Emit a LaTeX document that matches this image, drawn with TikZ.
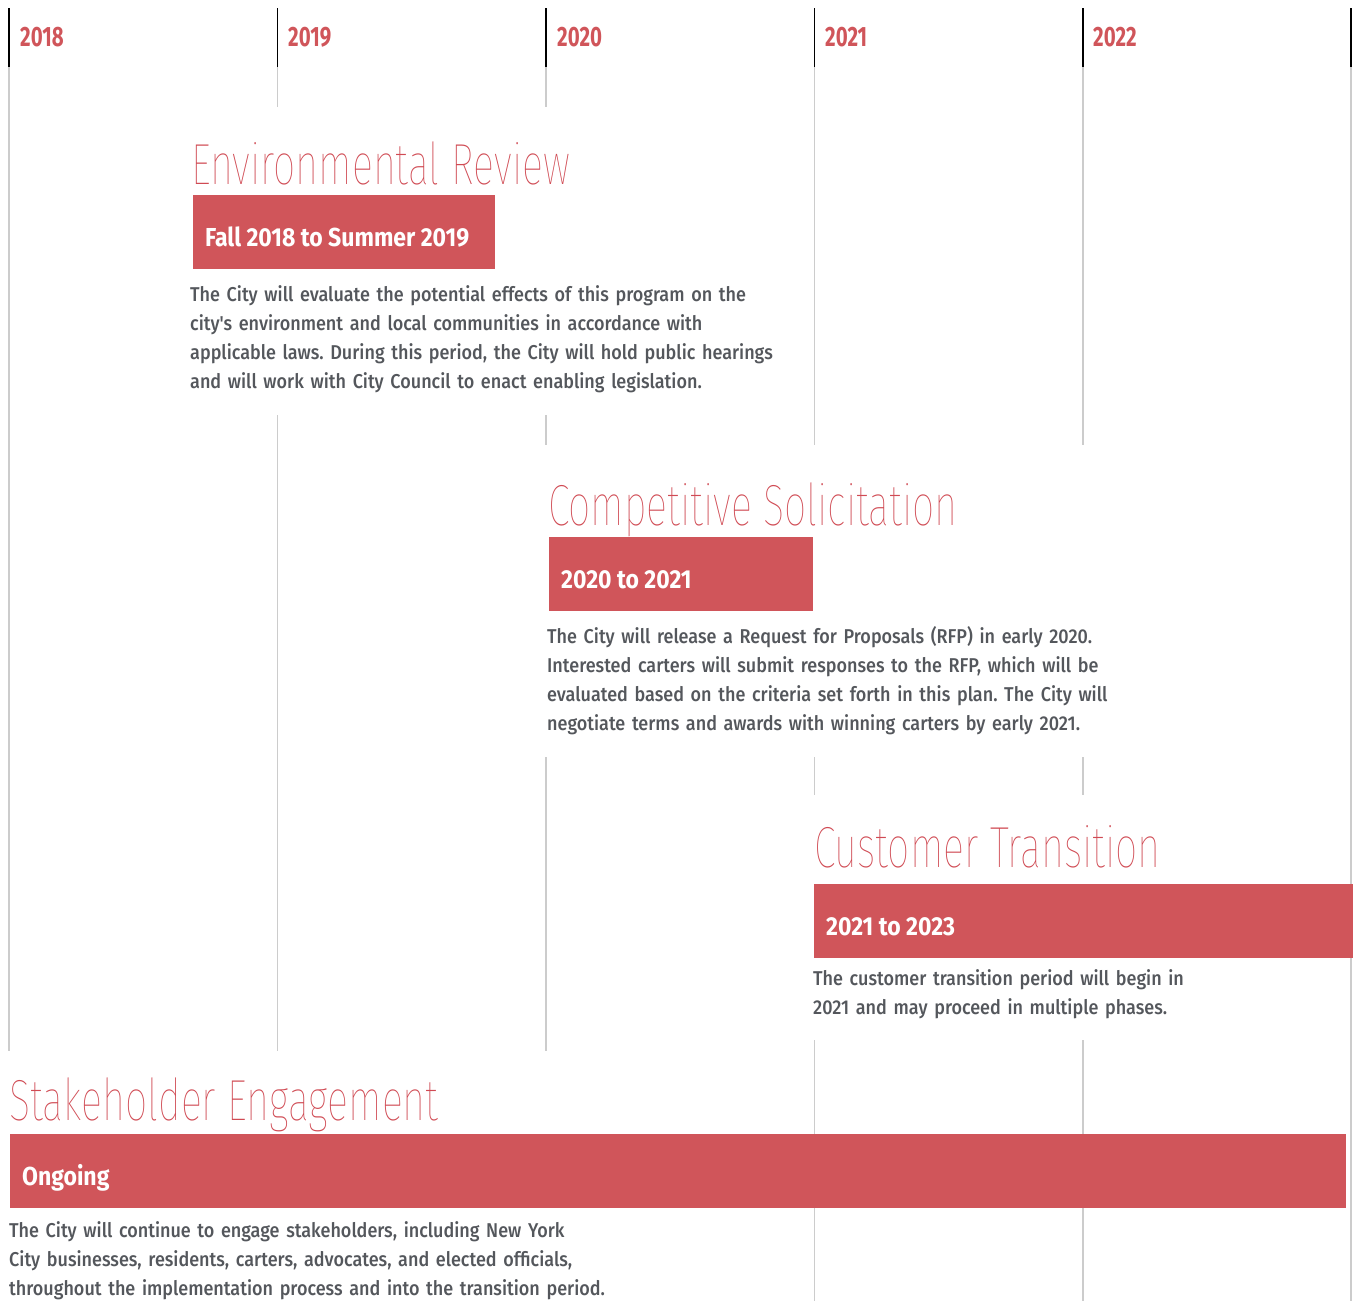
\documentclass[tikz,border=0pt]{standalone}
\usepackage{fontspec}
\setmainfont{Fira Sans}
\newfontfamily\bodyfont{Fira Sans Medium}[FakeStretch=0.90]
\newfontfamily\barfont{Fira Sans}[FakeStretch=0.885]
\newfontfamily\titlefont{Fira Sans Thin}[FakeStretch=0.68]
\newfontfamily\yearfont{Fira Sans}[FakeStretch=0.73]
\definecolor{accent}{HTML}{D0555A}
\definecolor{titlered}{HTML}{D04A53}
\definecolor{bodygray}{HTML}{54575C}
\definecolor{rulegray}{HTML}{CCCCCC}
\begin{document}
\begin{tikzpicture}[x=1pt,y=-1pt,
  yearlbl/.style={anchor=base west, inner sep=0pt, text=accent, font=\yearfont\bfseries\fontsize{28}{28}\selectfont},
  phasetitle/.style={anchor=base west, inner sep=0pt, text=titlered, font=\titlefont\fontsize{58}{58}\selectfont},
  barbox/.style={anchor=north west, inner sep=0pt, fill=accent, draw=none},
  bartext/.style={anchor=base west, inner sep=0pt, text=white, font=\barfont\bfseries\fontsize{26}{26}\selectfont},
  bodytext/.style={anchor=base west, inner sep=0pt, text=bodygray, text width=720pt, align=left, font=\bodyfont\frenchspacing\fontsize{20}{29.3}\selectfont},
  topline/.style={draw=black, line width=1.5pt},
  gridline/.style={draw=rulegray, line width=1.4pt}
]
\fill[white] (0,0) rectangle (1353,1301);
\useasboundingbox (0,0) rectangle (1353,1301);

% year ticks
\foreach \x in {9,277.5,546,814.5,1083,1351}{\draw[topline] (\x,8) -- (\x,67);}

% grey grid segments
\draw[gridline] (9,67) -- (9,1051);
\draw[gridline] (277.5,67) -- (277.5,107);
\draw[gridline] (277.5,415) -- (277.5,1051);
\draw[gridline] (546,67) -- (546,107);
\draw[gridline] (546,415) -- (546,445);
\draw[gridline] (546,757) -- (546,1051);
\draw[gridline] (814.5,67) -- (814.5,445);
\draw[gridline] (814.5,757) -- (814.5,795);
\draw[gridline] (814.5,1040) -- (814.5,1301);
\draw[gridline] (1083,67) -- (1083,445);
\draw[gridline] (1083,757) -- (1083,795);
\draw[gridline] (1083,1040) -- (1083,1301);
\draw[gridline] (1351,67) -- (1351,1301);

% years
\node[yearlbl] (y2018) at (20,46) {2018};
\node[yearlbl] (y2019) at (288,46) {2019};
\node[yearlbl] (y2020) at (557,46) {2020};
\node[yearlbl] (y2021) at (825,46) {2021};
\node[yearlbl] (y2022) at (1093,46) {2022};

% Environmental Review
\node[phasetitle] (t1) at (191,184) {Environmental Review};
\node[barbox, minimum width=302pt, minimum height=74pt] (b1) at (193,195) {};
\node[bartext] (bt1) at (205,246) {Fall 2018 to Summer 2019};
\node[bodytext] (d1) at (190,301) {The City will evaluate the potential effects of this program on the\\
city's environment and local communities in accordance with\\
applicable laws. During this period, the City will hold public hearings\\
and will work with City Council to enact enabling legislation.};

% Competitive Solicitation
\node[phasetitle] (t2) at (548,525) {Competitive Solicitation};
\node[barbox, minimum width=264pt, minimum height=74pt] (b2) at (549,537) {};
\node[bartext] (bt2) at (561,588) {2020 to 2021};
\node[bodytext] (d2) at (547,643) {The City will release a Request for Proposals (RFP) in early 2020.\\
Interested carters will submit responses to the RFP, which will be\\
evaluated based on the criteria set forth in this plan. The City will\\
negotiate terms and awards with winning carters by early 2021.};

% Customer Transition
\node[phasetitle] (t3) at (814,867) {Customer Transition};
\node[barbox, minimum width=539pt, minimum height=74pt] (b3) at (814,884) {};
\node[bartext] (bt3) at (826,935) {2021 to 2023};
\node[bodytext] (d3) at (813,985) {The customer transition period will begin in\\
2021 and may proceed in multiple phases.};

% Stakeholder Engagement
\node[phasetitle] (t4) at (9,1120) {Stakeholder Engagement};
\node[barbox, minimum width=1336pt, minimum height=74pt] (b4) at (10,1134) {};
\node[bartext] (bt4) at (22,1185) {Ongoing};
\node[bodytext] (d4) at (9,1237) {The City will continue to engage stakeholders, including New York\\
City businesses, residents, carters, advocates, and elected officials,\\
throughout the implementation process and into the transition period.};
\end{tikzpicture}
\end{document}
